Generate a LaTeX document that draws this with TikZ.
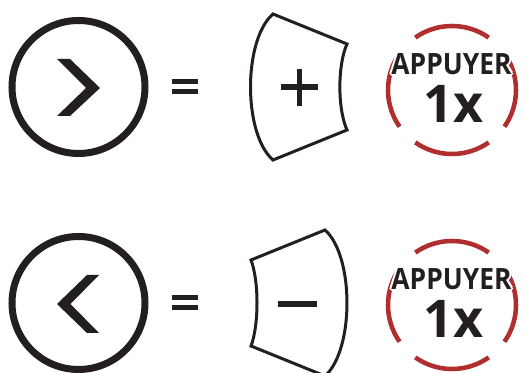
\documentclass[tikz,border=0pt]{standalone}
\usepackage{fontspec}
\usepackage{xcolor}
\usepackage{tikz}
\usetikzlibrary{positioning}
\newfontfamily\badgefont{Open Sans}[FakeStretch=0.9]
\newfontfamily\countfont{Open Sans}
\definecolor{inkblack}{RGB}{35,31,32}
\definecolor{pressred}{RGB}{176,46,46}
\tikzset{
  ring/.style     ={draw=inkblack, circle, line width=5.25pt, minimum size=99.75pt, inner sep=0pt},
  chev/.style     ={fill=inkblack},
  btn/.style      ={draw=inkblack, line width=2.25pt, line join=miter},
  bar/.style      ={fill=inkblack},
  arcred/.style   ={draw=pressred, line width=3.4pt},
  presstxt/.style ={inner sep=0pt, text=inkblack, font=\badgefont\bfseries\fontsize{22}{22}\selectfont},
  counttxt/.style ={inner sep=0pt, text=inkblack, font=\countfont\bfseries\fontsize{39}{39}\selectfont},
}
\begin{document}
\begin{tikzpicture}[x=0.75pt,y=-0.75pt]
  \useasboundingbox (0,0) rectangle (525,373);
  % arrow keys
  \node[ring] (next) at (78.5,87) {};
  \node[ring] (prev) at (78.5,303) {};
  \fill[chev] (57,59) -- (70,59) -- (100,88) -- (70,116) -- (57,116) -- (86,88) -- cycle;
  \fill[chev] (99,275) -- (87,275) -- (57,304) -- (87,333) -- (99,333) -- (70.5,304) -- cycle;
  % equal signs
  \foreach \y in {87,303} {
    \fill[bar] (172,\y-8) rectangle (198,\y-3);
    \fill[bar] (172,\y+2) rectangle (198,\y+7);
  }
  % plus / minus buttons
  \draw[btn] (273,14) -- (347,44) .. controls (337.5,65) and (337.5,109) .. (347,130)
    -- (273,160) .. controls (243,134) and (243,40) .. cycle;
  \draw[btn] (251,260) -- (325,230) .. controls (354.3,256) and (354.3,350) .. (325,376)
    -- (251,346) .. controls (259,325) and (259,281) .. cycle;
  \fill[bar] (281,84.5) rectangle (318,90);
  \fill[bar] (296.5,69) rectangle (302,106);
  \fill[bar] (278,301) rectangle (317,307);
  % press badges
  \foreach \cy [count=\k] in {90,305} {
    \foreach \a [evaluate=\a as \s using \a-35] in {0,90,180,270}
      \draw[arcred] ([shift={(\s:48pt)}]452,\cy) arc[start angle=\s, end angle=\s+70, radius=48pt];
    \foreach \dx/\dy [count=\h] in {1.5/0,-1.5/0,0/1.5,0/-1.5,1.1/1.1,1.1/-1.1,-1.1/1.1,-1.1/-1.1}
      \node[presstxt,text=white] (halo\k\h) at ([shift={(\dx pt,\dy pt)}]451.5,\cy-26) {APPUYER};
    \node[presstxt] (press\k) at (451.5,\cy-26) {APPUYER};
    \node[counttxt] (count\k) at (453.5,\cy+13.5) {1x};
  }
\end{tikzpicture}
\end{document}
